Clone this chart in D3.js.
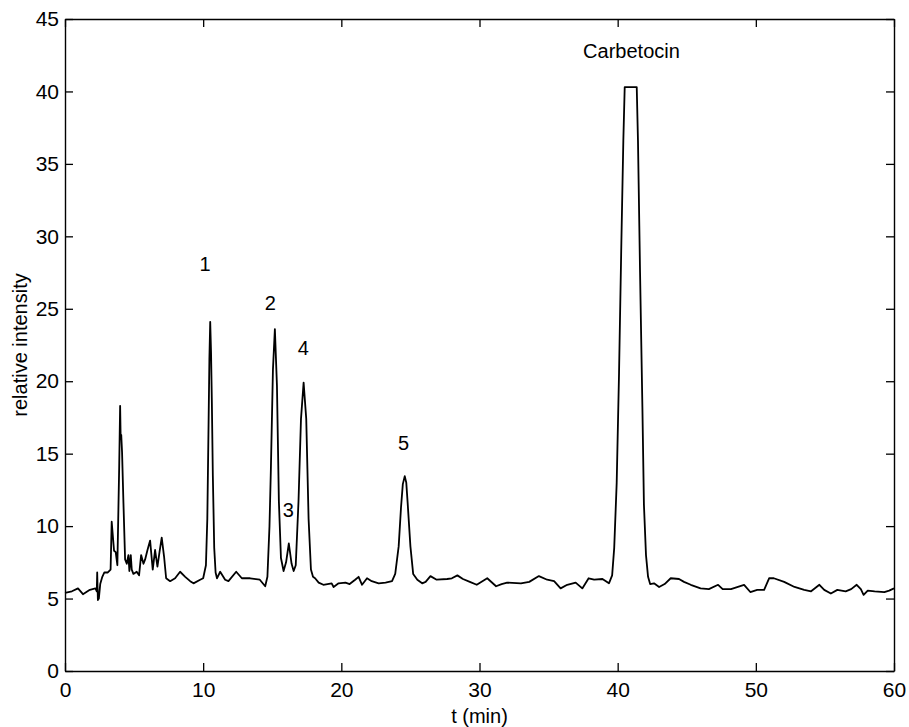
<!DOCTYPE html>
<html>
<head>
<meta charset="utf-8">
<script src="https://cdn.jsdelivr.net/npm/d3@7"></script>
<style>
  body { margin: 0; background: #fff; }
  text { font-family: "Liberation Sans", Arial, Helvetica, sans-serif; fill: #000; }
</style>
</head>
<body>
<div id="chart"></div>
<script>
// retention time (min) of each sample
var retentionTime = [
  0, 0.5, 0.94, 1.3, 1.8, 2.2, 2.3, 2.33, 2.38, 2.45, 2.55, 2.7, 2.85, 3.1, 3.3,
  3.38, 3.55, 3.67, 3.79, 3.92, 3.99, 4.03, 4.07, 4.13, 4.23, 4.35, 4.47, 4.59, 4.66,
  4.76, 4.83, 4.95, 5.19, 5.36, 5.51, 5.68, 5.8, 5.97, 6.16, 6.35, 6.52, 6.69, 6.84,
  7.0, 7.17, 7.32, 7.61, 7.97, 8.33, 8.7, 9.06, 9.3, 9.78, 10.0, 10.2, 10.3, 10.39,
  10.45, 10.51, 10.57, 10.63, 10.7, 10.8, 10.9, 11.0, 11.23, 11.59, 11.83, 12.39,
  12.8, 13.4, 14.1, 14.49, 14.65, 14.8, 14.9, 15.05, 15.19, 15.34, 15.48, 15.63,
  15.82, 16.0, 16.2, 16.4, 16.55, 16.7, 16.9, 17.08, 17.27, 17.46, 17.63, 17.8,
  17.95, 18.1, 18.36, 18.7, 19.3, 19.44, 19.8, 20.3, 20.6, 21.0, 21.25, 21.5, 21.86,
  22.2, 22.7, 23.2, 23.67, 23.9, 24.15, 24.32, 24.45, 24.59, 24.7, 24.8, 25.0, 25.2,
  25.5, 25.85, 26.1, 26.45, 26.9, 27.66, 28.0, 28.4, 28.8, 29.3, 29.8, 30.56, 31.2,
  31.6, 32.0, 33.0, 33.6, 34.3, 34.9, 35.4, 35.87, 36.35, 36.96, 37.44, 37.9, 38.3,
  38.9, 39.37, 39.6, 39.75, 39.93, 40.1, 40.27, 40.41, 40.51, 41.38, 41.47, 41.62,
  41.79, 41.9, 42.05, 42.2, 42.35, 42.63, 43.0, 43.4, 43.84, 44.44, 44.8, 45.29,
  46.0, 46.6, 47.27, 47.6, 48.2, 49.15, 49.6, 50.1, 50.6, 50.96, 51.3, 52.05, 52.8,
  53.5, 54.0, 54.6, 54.95, 55.43, 55.9, 56.5, 56.9, 57.3, 57.6, 57.8, 58.1, 58.6,
  59.3, 59.65, 60
];

// relative intensity at each of those times
var intensity = [
  5.4, 5.5, 5.7, 5.3, 5.6, 5.7, 5.5, 6.8, 4.9, 5.0, 6.0, 6.5, 6.8, 6.8, 7.0,
  10.3, 8.3, 8.2, 7.3, 14.0, 18.3, 16.0, 16.3, 15.1, 11.6, 7.7, 7.4, 8.0, 6.9,
  8.0, 7.0, 6.7, 6.85, 6.6, 8.0, 7.4, 7.7, 8.35, 9.0, 7.0, 8.35, 7.2, 8.2,
  9.2, 7.9, 6.4, 6.2, 6.4, 6.85, 6.5, 6.2, 6.05, 6.3, 6.4, 7.3, 10.5, 17.0,
  21.5, 24.1, 22.0, 18.5, 13.5, 8.5, 6.8, 6.4, 6.85, 6.3, 6.2, 6.85,
  6.4, 6.4, 6.3, 5.85, 6.5, 10.0, 13.9, 20.8, 23.6, 19.7, 11.7, 7.8,
  6.9, 7.5, 8.8, 7.4, 6.9, 7.3, 11.7, 17.4, 19.9, 17.4, 10.5, 7.0,
  6.5, 6.4, 6.1, 5.95, 6.05, 5.8, 6.05, 6.1, 6.0, 6.3, 6.5, 5.95, 6.4,
  6.2, 6.05, 6.1, 6.2, 6.7, 8.6, 11.3, 12.9, 13.45, 13.0, 11.6, 8.6, 6.7,
  6.3, 6.05, 6.15, 6.55, 6.3, 6.35, 6.4, 6.6, 6.35, 6.15, 5.95, 6.4, 5.85,
  6.0, 6.1, 6.05, 6.15, 6.55, 6.3, 6.2, 5.7, 5.95, 6.1, 5.7, 6.4, 6.3,
  6.35, 6.05, 6.6, 8.5, 13.0, 20.6, 29.7, 36.6, 40.3, 40.3, 36.6, 27.5,
  18.2, 11.5, 8.0, 6.5, 6.0, 6.05, 5.8, 6.0, 6.4, 6.35, 6.15, 5.95,
  5.7, 5.65, 5.95, 5.65, 5.65, 5.95, 5.45, 5.6, 5.6, 6.4, 6.4, 6.15, 5.8,
  5.6, 5.5, 5.95, 5.6, 5.35, 5.6, 5.5, 5.65, 5.95, 5.65, 5.25, 5.55, 5.5,
  5.45, 5.55, 5.7
];

var xTicks = [0, 10, 20, 30, 40, 50, 60];
var yTicks = [0, 5, 10, 15, 20, 25, 30, 35, 40, 45];

// peak annotations: text, time, intensity where the text sits
var peakLabels = ["1", "2", "3", "4", "5", "Carbetocin"];
var peakLabelTime = [10.14, 14.86, 16.16, 17.25, 24.5, 41.0];
var peakLabelLevel = [27.6, 24.9, 10.6, 21.8, 15.25, 42.3];

var width = 909, height = 727;
var margin = {top: 19, right: 15, bottom: 56, left: 65};
var w = width - margin.left - margin.right;
var h = height - margin.top - margin.bottom;

var svg = d3.select("#chart").append("svg")
  .attr("width", width)
  .attr("height", height);

var g = svg.append("g")
  .attr("transform", "translate(" + margin.left + "," + margin.top + ")");

var x = d3.scaleLinear().domain([0, 60]).range([0, w]);
var y = d3.scaleLinear().domain([0, 45]).range([h, 0]);

// axes, ticks pointing inward on all four sides (box on)
function styleAxis(sel) {
  sel.selectAll(".domain").attr("stroke", "#000").attr("stroke-width", 1.4);
  sel.selectAll(".tick line").attr("stroke", "#000").attr("stroke-width", 1.3);
  sel.selectAll(".tick text").style("font-size", "21px");
}

g.append("g")
  .attr("transform", "translate(0," + h + ")")
  .call(d3.axisBottom(x).tickValues(xTicks).tickSizeInner(-8).tickSizeOuter(0).tickPadding(11))
  .call(styleAxis);

g.append("g")
  .call(d3.axisTop(x).tickValues(xTicks).tickSizeInner(-8).tickSizeOuter(0).tickFormat(""))
  .call(styleAxis);

g.append("g")
  .call(d3.axisLeft(y).tickValues(yTicks).tickSizeInner(-8).tickSizeOuter(0).tickPadding(6))
  .call(styleAxis);

g.append("g")
  .attr("transform", "translate(" + w + ",0)")
  .call(d3.axisRight(y).tickValues(yTicks).tickSizeInner(-8).tickSizeOuter(0).tickFormat(""))
  .call(styleAxis);

// chromatogram trace
var points = retentionTime.map(function(t, i) { return [t, intensity[i]]; });

var line = d3.line()
  .x(function(d) { return x(d[0]); })
  .y(function(d) { return y(d[1]); })
  .curve(d3.curveLinear);

g.append("path")
  .datum(points)
  .attr("fill", "none")
  .attr("stroke", "#000")
  .attr("stroke-width", 1.8)
  .attr("stroke-linejoin", "round")
  .attr("d", line);

// peak numbers
g.selectAll(".peak-label")
  .data(peakLabels)
  .enter()
  .append("text")
  .attr("class", "peak-label")
  .attr("x", function(d, i) { return x(peakLabelTime[i]); })
  .attr("y", function(d, i) { return y(peakLabelLevel[i]); })
  .attr("text-anchor", "middle")
  .style("font-size", "20px")
  .text(function(d) { return d; });

// axis titles
svg.append("text")
  .attr("x", margin.left + w / 2)
  .attr("y", 723)
  .attr("text-anchor", "middle")
  .style("font-size", "20px")
  .text("t (min)");

svg.append("text")
  .attr("transform", "translate(27," + (margin.top + h / 2) + ") rotate(-90)")
  .attr("text-anchor", "middle")
  .style("font-size", "20px")
  .text("relative intensity");
</script>
</body>
</html>
